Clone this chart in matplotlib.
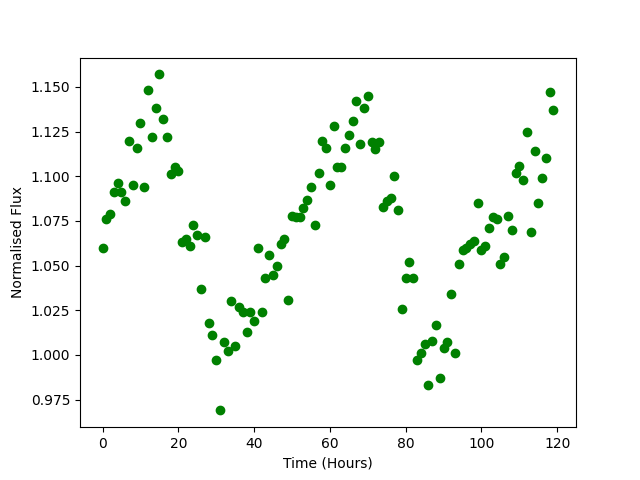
import numpy as np
import matplotlib
matplotlib.use('Agg')
import matplotlib.pyplot as plt

# flux readings, one per hour
flux = [1.060, 1.076, 1.079, 1.091, 1.096, 1.091, 1.086, 1.120, 1.095, 1.116,
        1.130, 1.094, 1.148, 1.122, 1.138, 1.157, 1.132, 1.122, 1.101, 1.105,
        1.103, 1.063, 1.065, 1.061, 1.073, 1.067, 1.037, 1.066, 1.018, 1.011,
        0.997, 0.969, 1.007, 1.002, 1.030, 1.005, 1.027, 1.024, 1.013, 1.024,
        1.019, 1.060, 1.024, 1.043, 1.056, 1.045, 1.050, 1.062, 1.065, 1.031,
        1.078, 1.077, 1.077, 1.082, 1.087, 1.094, 1.073, 1.102, 1.120, 1.116,
        1.095, 1.128, 1.105, 1.105, 1.116, 1.123, 1.131, 1.142, 1.118, 1.138,
        1.145, 1.119, 1.115, 1.119, 1.083, 1.086, 1.088, 1.100, 1.081, 1.026,
        1.043, 1.052, 1.043, 0.997, 1.001, 1.006, 0.983, 1.008, 1.017, 0.987,
        1.004, 1.007, 1.034, 1.001, 1.051, 1.059, 1.060, 1.062, 1.064, 1.085,
        1.059, 1.061, 1.071, 1.077, 1.076, 1.051, 1.055, 1.078, 1.070, 1.102,
        1.106, 1.098, 1.125, 1.069, 1.114, 1.085, 1.099, 1.110, 1.147, 1.137]
hours = np.arange(len(flux))

fig, ax = plt.subplots(figsize=(6.4, 4.8), dpi=100)
ax.plot(hours, flux, 'o', color='green')
ax.set_xlabel('Time (Hours)')
ax.set_ylabel('Normalised Flux')
fig.savefig('out.png')
